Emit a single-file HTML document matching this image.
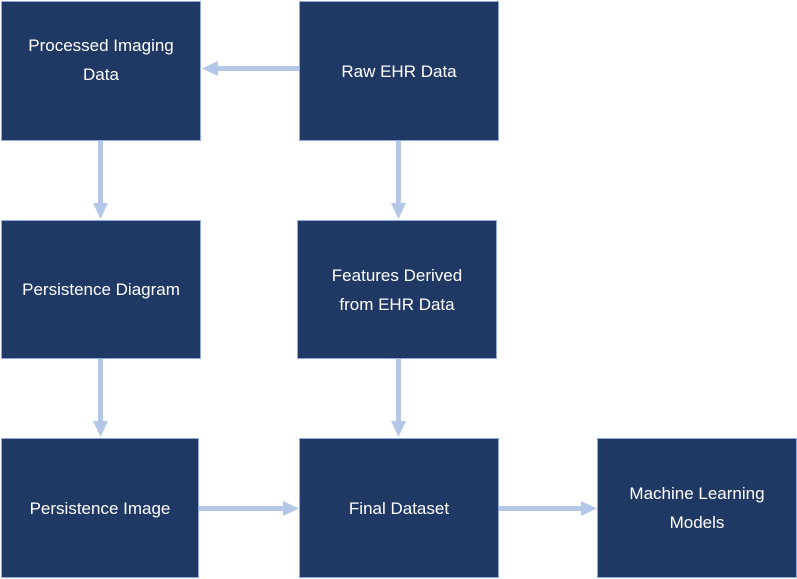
<!DOCTYPE html>
<html><head><style>
body{margin:0;width:797px;height:579px;background:#fff;position:relative;overflow:hidden;font-family:"Liberation Sans",sans-serif}
.b{position:absolute;background:#203864;border:1px solid #8faadc;box-sizing:border-box;color:#fff;font-size:17px;line-height:29px;display:flex;align-items:center;justify-content:center;text-align:center}
svg{position:absolute;left:0;top:0}
</style></head><body>
<div class="b" style="left:1px;top:1px;width:200px;height:140px;padding-bottom:22px">Processed Imaging<br>Data</div>
<div class="b" style="left:299px;top:1px;width:200px;height:140px">Raw EHR Data</div>
<div class="b" style="left:1px;top:220px;width:200px;height:139px">Persistence Diagram</div>
<div class="b" style="left:297px;top:220px;width:200px;height:139px">Features Derived<br>from EHR Data</div>
<div class="b" style="left:1px;top:438px;width:198px;height:140px">Persistence Image</div>
<div class="b" style="left:299px;top:438px;width:200px;height:140px">Final Dataset</div>
<div class="b" style="left:597px;top:438px;width:200px;height:140px">Machine Learning<br>Models</div>
<svg width="797" height="579">
<g fill="#b4c7e7" stroke="none">
<rect x="216" y="66" width="83" height="5"/><polygon points="202,68.5 218,61 218,76"/>
<rect x="98" y="141" width="5" height="65"/><polygon points="100.5,219 93,203 108,203"/>
<rect x="396" y="141" width="5" height="65"/><polygon points="398.5,219 391,203 406,203"/>
<rect x="98" y="359" width="5" height="65"/><polygon points="100.5,437 93,421 108,421"/>
<rect x="396" y="359" width="5" height="65"/><polygon points="398.5,437 391,421 406,421"/>
<rect x="199" y="506" width="86" height="5"/><polygon points="299,508.5 283,501 283,516"/>
<rect x="499" y="506" width="84" height="5"/><polygon points="597,508.5 581,501 581,516"/>
</g></svg>
</body></html>
